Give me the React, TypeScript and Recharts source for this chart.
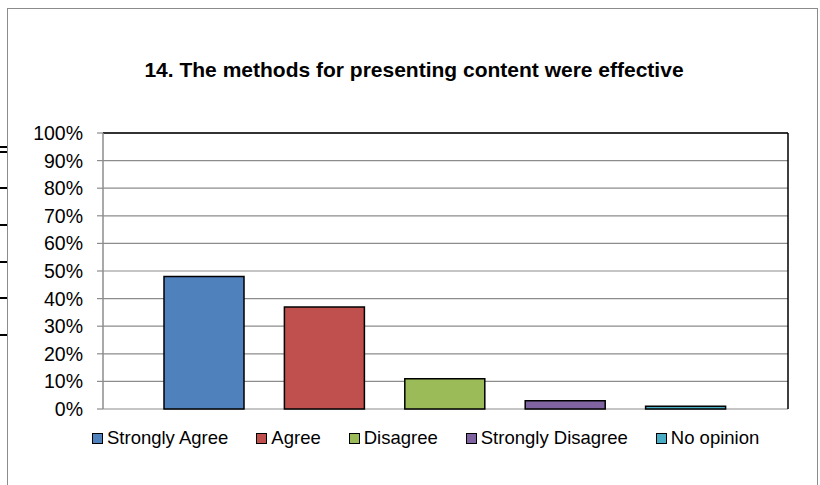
import React from "react";
import { BarChart, Bar, Cell, XAxis, YAxis, CartesianGrid, ReferenceLine } from "recharts";

const categories = ["Strongly Agree", "Agree", "Disagree", "Strongly Disagree", "No opinion"];
const values = [48, 37, 11, 3, 1];
const colors = ["#4F81BD", "#C0504D", "#9BBB59", "#8064A2", "#4BACC6"];
const yTicks = [0, 10, 20, 30, 40, 50, 60, 70, 80, 90, 100];
const title = "14. The methods for presenting content were effective";

// stray table borders cropped in at the left edge of the screenshot
const edgeMarks = [147, 152, 188, 225, 262, 298, 335];

const FONT = "'Liberation Sans', Arial, sans-serif";

const data = categories.map((name, i) => ({ name, value: values[i] }));

function ChartLegend() {
  return (
    <div
      style={{
        position: "absolute",
        top: 427,
        left: 92,
        height: 22,
        display: "flex",
        alignItems: "center",
        fontFamily: FONT,
        fontSize: 18.5,
        lineHeight: "22px",
        color: "#000",
        whiteSpace: "nowrap",
      }}
    >
      {categories.map((c, i) => (
        <div key={c} style={{ display: "flex", alignItems: "center", marginRight: 28 }}>
          <span
            style={{
              display: "inline-block",
              width: 11,
              height: 11,
              boxSizing: "border-box",
              background: colors[i],
              border: "1.5px solid #000",
              marginRight: 4,
            }}
          />
          <span>{c}</span>
        </div>
      ))}
    </div>
  );
}

export default function App() {
  return (
    <div style={{ position: "absolute", left: 0, top: 0, width: 820, height: 485, background: "#fff", overflow: "hidden" }}>
      <div
        style={{
          position: "absolute",
          left: 7,
          top: 8,
          width: 811,
          height: 500,
          border: "1px solid #8c8c8c",
          boxSizing: "border-box",
        }}
      />
      {edgeMarks.map((y) => (
        <div key={y} style={{ position: "absolute", left: 0, top: y - 1, width: 7, height: 2, background: "#000" }} />
      ))}
      <div
        style={{
          position: "absolute",
          top: 58,
          left: 0,
          width: 828,
          textAlign: "center",
          fontFamily: FONT,
          fontWeight: "bold",
          fontSize: 21,
          lineHeight: "24px",
          color: "#000",
          whiteSpace: "nowrap",
        }}
      >
        {title}
      </div>
      <div style={{ position: "absolute", left: 0, top: 0 }}>
        <BarChart
          width={820}
          height={485}
          data={data}
          margin={{ top: 133, right: 31, bottom: 76, left: 0 }}
          barSize={80}
        >
          <CartesianGrid yAxisId="left" horizontal vertical={false} stroke="#8c8c8c" strokeWidth={1.2} />
          <XAxis
            dataKey="name"
            yAxisId="left"
            tick={false}
            tickLine={false}
            height={0}
            padding={{ left: 41, right: 42 }}
            axisLine={{ stroke: "#000", strokeWidth: 1.5 }}
          />
          <YAxis
            yAxisId="left"
            width={103}
            domain={[0, 100]}
            ticks={yTicks}
            interval={0}
            tickFormatter={(v) => `${v}%`}
            tick={{ fill: "#000", fontSize: 19.5, fontFamily: FONT }}
            tickSize={6}
            tickMargin={14}
            tickLine={{ stroke: "#8c8c8c", strokeWidth: 1.2 }}
            axisLine={{ stroke: "#8c8c8c", strokeWidth: 1.5 }}
          />
          <YAxis
            yAxisId="right"
            orientation="right"
            width={1}
            domain={[0, 100]}
            tick={false}
            tickLine={false}
            axisLine={{ stroke: "#000", strokeWidth: 1.5 }}
          />
          <ReferenceLine yAxisId="left" y={100} stroke="#000" strokeWidth={1.5} />
          <Bar yAxisId="left" dataKey="value" stroke="#000" strokeWidth={1.5} isAnimationActive={false}>
            {data.map((d, i) => (
              <Cell key={d.name} fill={colors[i]} />
            ))}
          </Bar>
        </BarChart>
      </div>
      <ChartLegend />
    </div>
  );
}
